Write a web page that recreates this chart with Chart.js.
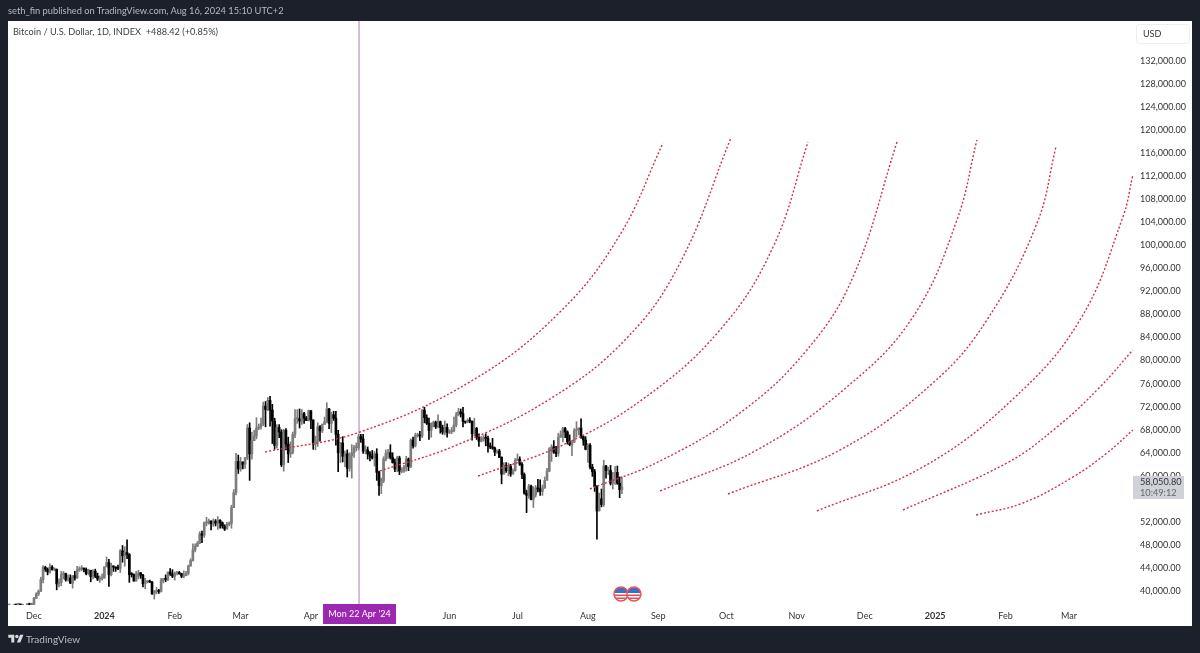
<!DOCTYPE html>
<html>
<head>
<meta charset="utf-8">
<title>BTCUSD</title>
<script src="https://cdn.jsdelivr.net/npm/chart.js"></script>
<style>
  html, body { margin: 0; padding: 0; background: #1c202b; overflow: hidden; }
  body { width: 1200px; height: 653px; position: relative; font-family: Lato, sans-serif; }
  canvas { position: absolute; left: 0; top: 0; }
  .txt { position: absolute; white-space: pre; }
  #pub { left: 8px; top: 5px; font-size: 9.3px; color: #b6b9c2; }
  #legend { left: 13px; top: 26px; font-size: 9.2px; color: #3c3f48; }
  #brand { left: 26px; top: 633px; font-size: 10px; color: #b9bcc5; }
  #logo { position: absolute; left: 8px; top: 633px; width: 16px; height: 12px; fill: #d8dae0; }
</style>
</head>
<body>
<canvas id="myChart" width="1200" height="653"></canvas>
<div class="txt" id="pub">seth_fin published on TradingView.com, Aug 16, 2024 15:10 UTC+2</div>
<div class="txt" id="legend">Bitcoin / U.S. Dollar, 1D, INDEX  +488.42 (+0.85%)</div>
<svg id="logo" viewBox="0 0 36 28"><path d="M14 22H7V11H0V4h14v18zM28 22h-8l7.5-18h8L28 22z"/><circle cx="20" cy="8" r="4"/></svg>
<div class="txt" id="brand">TradingView</div>
<script>
// days are counted from 1 Dec 2023, candles start on 20 Nov 2023
const firstDay = -11;

// daily candles, thousands of USD
const closes = [
  37.4,35.8,37.4,37.3,37.7,37.6,37.4,37.2,37.8,37.6,37.7,
  38.7,39.5,39.97,41.98,44.08,43.77,43.29,44.17,43.72,43.79,41.24,41.45,42.89,43.02,41.94,42.26,41.36,42.66,42.27,43.65,43.86,43.99,43.74,43.02,43.6,42.52,43.44,42.58,42.07,42.14,42.28,
  44.18,44.95,42.85,44.18,44.16,43.97,43.93,46.97,46.12,46.66,46.34,42.85,42.84,41.73,42.51,43.15,42.74,41.26,41.62,41.67,41.54,39.51,39.85,40.08,39.93,41.82,42.12,42.03,43.3,42.94,42.58,
  43.08,43.2,43.0,42.58,42.66,43.09,44.34,45.29,47.13,47.77,48.29,49.92,49.7,51.8,51.9,52.15,51.66,52.12,51.78,52.26,51.85,51.3,50.73,51.57,51.73,54.48,57.08,62.5,61.2,
  62.4,62.0,63.1,68.3,63.8,66.1,66.9,68.3,68.5,69.0,72.1,71.5,73.1,71.4,69.5,65.3,68.4,67.6,61.9,67.9,65.5,63.8,64.1,67.2,69.9,69.9,69.5,70.8,70.0,69.6,71.3,
  69.7,65.5,66.0,68.5,67.8,68.9,69.4,71.6,69.1,70.6,70.0,67.2,64.0,65.7,63.4,63.8,61.3,63.5,64.0,64.9,64.9,66.8,66.4,64.3,64.5,63.8,63.4,63.1,63.8,60.6,
  58.3,59.1,62.9,63.9,64.0,63.2,62.3,61.2,63.1,60.8,60.8,61.5,62.9,61.6,66.2,65.2,67.0,67.0,66.9,71.4,70.1,69.1,67.9,68.5,69.3,68.5,69.4,68.4,67.6,68.4,67.5,
  67.7,67.8,68.8,70.6,71.1,70.8,69.4,69.3,69.6,69.5,67.3,68.2,66.7,66.0,66.2,66.6,66.5,65.2,65.0,64.8,64.1,64.3,63.2,60.3,61.8,60.9,61.6,60.3,60.9,62.7,
  62.9,62.0,60.2,57.0,56.6,58.2,55.9,56.7,57.9,57.7,57.3,57.9,59.2,60.8,64.7,65.0,64.1,63.9,66.7,67.1,68.2,67.6,65.9,65.4,65.8,67.9,68.0,68.3,66.8,66.2,64.6,
  65.3,61.5,60.7,58.1,53.9,56.0,55.0,61.7,60.9,60.9,58.7,59.3,60.6,58.7,57.6,58.05
];
const highs = [
  37.65,37.4,37.65,37.5,37.9,37.7,37.5,37.4,37.8,37.9,37.9,
  38.9,39.7,40.2,42.4,44.4,44.3,44.0,44.7,44.4,44.0,43.8,42.1,43.4,43.4,43.1,42.8,42.8,42.7,43.4,44.3,44.2,44.4,44.0,44.0,43.8,43.6,43.7,43.8,43.1,42.6,43.0,
  44.2,45.9,45.5,44.8,44.4,44.2,44.5,47.2,47.9,47.7,48.9,46.5,43.2,43.0,43.4,43.6,43.2,42.9,42.2,41.8,41.9,41.7,40.1,40.6,40.3,42.2,42.2,42.8,43.3,43.9,43.7,
  43.3,43.4,43.4,43.1,43.5,43.4,44.5,45.6,48.2,48.2,48.6,50.3,50.4,52.0,52.8,52.5,52.2,52.5,52.4,52.9,52.4,52.0,51.5,51.9,52.0,54.9,57.6,63.9,63.6,
  63.2,62.4,63.2,68.9,69.2,67.6,67.9,70.1,69.0,70.0,72.8,72.9,73.6,73.8,72.4,70.0,68.9,68.9,68.0,68.1,68.2,66.7,65.9,67.6,71.5,71.5,71.6,71.5,71.0,70.3,71.4,
  71.3,69.7,66.9,69.2,68.7,69.0,70.2,72.7,71.7,71.0,71.2,71.2,67.9,65.8,66.8,64.3,64.5,64.0,65.4,65.3,65.7,67.2,67.2,67.2,65.2,65.0,64.2,64.4,64.2,64.7,
  60.8,59.6,63.3,64.5,64.6,65.4,64.0,62.9,63.4,63.4,61.4,61.8,63.4,63.1,66.4,66.7,67.4,67.4,67.7,71.5,71.9,70.6,70.0,69.2,69.5,69.5,70.6,69.5,68.8,69.5,69.0,
  68.0,68.4,70.2,71.0,71.7,71.6,71.9,69.5,69.9,70.1,69.5,70.0,68.4,67.3,66.8,67.0,67.3,66.9,65.7,66.5,65.0,64.5,64.6,63.3,62.3,62.3,62.2,62.0,61.2,63.0,
  63.8,63.3,62.3,60.5,57.5,58.5,58.4,58.1,58.3,59.4,59.3,58.4,59.8,61.3,64.9,65.4,66.1,65.1,67.4,67.8,68.4,68.4,67.8,67.1,66.1,68.2,69.4,68.3,69.9,66.9,66.8,
  65.6,65.6,62.0,61.1,58.3,57.0,57.7,62.7,61.8,61.5,61.8,60.6,61.6,61.7,59.8,59.8
];
const lows = [
  37.0,35.7,35.7,37.0,37.2,37.4,37.1,36.7,36.9,37.5,37.5,
  37.6,38.7,39.2,39.9,41.4,43.4,42.8,43.1,43.6,43.5,40.2,40.7,40.9,42.1,41.7,41.7,41.3,40.5,41.9,42.2,43.4,43.5,43.3,42.8,42.8,41.6,42.1,42.3,41.8,41.5,41.9,
  42.2,44.2,40.8,42.6,43.4,43.4,43.7,43.2,45.0,44.3,45.6,41.5,42.4,41.7,41.7,42.1,42.2,40.7,40.4,41.4,41.5,39.4,38.6,39.5,39.6,39.8,41.4,41.6,41.8,42.7,42.3,
  41.9,42.8,42.9,42.3,42.3,42.6,42.8,44.3,45.2,46.8,47.7,48.2,48.4,49.3,51.3,51.6,50.6,51.2,51.3,50.7,50.9,50.9,50.5,50.9,51.3,50.9,54.5,56.7,60.4,
  60.8,61.2,61.3,62.8,59.2,62.9,66.2,66.4,68.0,68.1,68.7,68.5,71.3,68.6,65.6,64.6,64.8,66.6,61.6,60.8,64.5,62.3,63.2,63.8,66.6,69.1,68.3,68.9,69.1,69.6,69.5,
  68.2,64.6,64.5,65.1,66.0,67.5,69.0,69.2,68.2,67.5,69.6,65.3,60.7,62.3,62.4,61.6,59.8,60.8,59.6,63.2,64.3,64.5,65.8,63.9,63.8,62.9,62.6,62.9,61.7,59.2,
  56.6,56.9,58.8,62.6,63.0,62.9,62.2,60.7,60.7,60.2,60.5,60.6,60.8,60.9,61.4,64.8,65.0,66.7,66.1,66.6,69.2,68.9,66.3,66.7,68.5,68.2,68.3,67.4,67.2,67.1,66.7,
  67.3,67.3,67.6,68.5,70.4,70.2,68.5,69.1,69.2,69.2,66.2,66.9,66.3,65.1,65.9,66.0,65.2,64.1,64.7,64.6,63.5,63.9,63.2,58.6,60.3,60.6,60.0,59.9,60.3,60.8,
  62.6,61.8,59.5,56.8,53.6,56.1,55.8,54.5,56.3,57.2,56.6,56.6,57.8,59.8,60.7,62.5,63.9,63.3,63.4,66.7,65.9,66.6,65.5,65.2,63.5,65.8,66.7,67.1,66.5,65.3,64.5,
  62.3,61.2,59.9,57.3,49.0,53.9,54.6,54.7,59.6,60.2,58.4,57.7,58.5,58.5,56.2,56.9
];

// the nine dashed arcs: [day, price]
const arc1 = [[101.8,64130],[143.6,67600],[193.4,76630],[231.7,88430],[258.1,101800],[277.1,117770]];
const arc2 = [[152.4,60830],[186.3,65350],[227.3,73330],[261.2,83920],[284.6,96940],[307,118640]];
const arc3 = [[195.6,59960],[233,65350],[268.3,73330],[302.2,85310],[325.6,99720],[341,117950]];
const arc4 = [[244.9,57710],[275.8,62570],[311,70900],[340.5,81840],[360.8,94510],[380.2,117950]];
const arc5 = [[275.8,57360],[318.5,64480],[358.1,75410],[387.2,87570],[406.6,104410],[415.4,118290]];
const arc6 = [[305.7,56840],[355.1,64480],[396,76110],[419.8,87050],[441.9,103880],[450.2,117080]];
const arc7 = [[344.9,53890],[391.6,61530],[431.3,73330],[460.8,87050],[479.7,104930],[484.1,112220]];
const arc8 = [[382.8,54060],[428.6,62220],[450.7,68470],[469.6,75410],[484.1,81840]];
const arc9 = [[415,53190],[435.7,55280],[457.7,59790],[472.7,63960],[484.1,67950]];
const arcs = [arc1, arc2, arc3, arc4, arc5, arc6, arc7, arc8, arc9];

// axes
const priceTicks = [132000,128000,124000,120000,116000,112000,108000,104000,100000,96000,92000,88000,84000,80000,76000,72000,68000,64000,60000,52000,48000,44000,40000];
const timeTickDays = [0,31,62,91,122,183,213,244,275,305,336,366,397,428,456];
const timeTickNames = ["Dec","2024","Feb","Mar","Apr","Jun","Jul","Aug","Sep","Oct","Nov","Dec","2025","Feb","Mar"];
const yMin = 37570, yMax = 138950, xMin = -11.45, xMax = 484.6;

const crosshairDay = 143.2;
const crosshairLabel = "Mon 22 Apr '24";
const lastPrice = 58050.8;
const lastPriceLabel = "58,050.80";
const countdownLabel = "10:49:12";
const eventDays = [258.6, 264.3];

const FONT = "Lato, sans-serif";
const UP = "#7d7d7d";
const DOWN = "#000000";

function isUp(i) {
  const open = i === 0 ? closes[0] : closes[i - 1];
  return closes[i] >= open;
}

const wicks = closes.map((c, i) => ({ x: firstDay + i, y: [lows[i] * 1000, highs[i] * 1000] }));
const bodies = closes.map((c, i) => {
  const open = i === 0 ? c : closes[i - 1];
  return { x: firstDay + i, y: [open * 1000, c * 1000] };
});
const candleColors = closes.map((c, i) => (isUp(i) ? UP : DOWN));

const pane = {
  id: "pane",
  beforeDraw(chart) {
    const { ctx, chartArea, scales } = chart;
    ctx.save();
    ctx.fillStyle = "#ffffff";
    ctx.fillRect(chartArea.left, chartArea.top, scales.y.right - chartArea.left, scales.x.bottom - chartArea.top);
    ctx.restore();
  },
  afterDraw(chart) {
    const { ctx, chartArea, scales } = chart;
    ctx.save();

    // USD button
    const ux = chartArea.right + 2;
    ctx.strokeStyle = "#eeeeee";
    ctx.beginPath();
    ctx.roundRect(ux + 0.5, chartArea.top + 3.5, 53, 19, 3);
    ctx.stroke();
    ctx.fillStyle = "#333333";
    ctx.font = "9px " + FONT;
    ctx.textBaseline = "middle";
    ctx.fillText("USD", ux + 7, chartArea.top + 13);

    // last price label
    const py = scales.y.getPixelForValue(lastPrice);
    ctx.fillStyle = "#d0d2da";
    ctx.fillRect(chartArea.right - 1, py - 11, 51, 23);
    ctx.fillStyle = "#333333";
    ctx.font = "9.2px " + FONT;
    ctx.fillText(lastPriceLabel, chartArea.right + 6, py - 5);
    ctx.fillStyle = "#666666";
    ctx.fillText(countdownLabel, chartArea.right + 6, py + 6);

    // crosshair date label
    const cx = scales.x.getPixelForValue(crosshairDay);
    ctx.fillStyle = "#9c27b0";
    ctx.fillRect(cx - 36, scales.x.top - 1, 73, 20);
    ctx.fillStyle = "#ffffff";
    ctx.textAlign = "center";
    ctx.font = "9px " + FONT;
    ctx.fillText(crosshairLabel, cx + 0.5, scales.x.top + 9);

    // dividend style event badges
    eventDays.forEach((d) => {
      const ex = scales.x.getPixelForValue(d);
      const ey = chartArea.bottom - 11;
      ctx.save();
      ctx.beginPath();
      ctx.arc(ex, ey, 7, 0, Math.PI * 2);
      ctx.fillStyle = "#ffffff";
      ctx.fill();
      ctx.clip();
      ctx.fillStyle = "#3f6fc4";
      ctx.fillRect(ex - 7, ey - 6, 14, 5);
      ctx.fillStyle = "#e0505c";
      ctx.fillRect(ex - 7, ey + 0.5, 14, 1.5);
      ctx.fillRect(ex - 7, ey + 3.5, 14, 1.5);
      ctx.restore();
      ctx.beginPath();
      ctx.arc(ex, ey, 7, 0, Math.PI * 2);
      ctx.strokeStyle = "#e8545c";
      ctx.lineWidth = 1.5;
      ctx.stroke();
    });
    ctx.restore();
  },
};

const datasets = [
  {
    type: "line",
    data: [{ x: crosshairDay, y: yMin }, { x: crosshairDay, y: yMax }],
    borderColor: "#b596c2",
    borderWidth: 1.2,
    pointRadius: 0,
    order: 4,
  },
  {
    type: "bar",
    data: wicks,
    backgroundColor: candleColors,
    barThickness: 1,
    grouped: false,
    order: 3,
  },
  {
    type: "bar",
    data: bodies,
    backgroundColor: candleColors,
    barThickness: 2,
    grouped: false,
    minBarLength: 1,
    order: 2,
  },
];

arcs.forEach((arc) => {
  datasets.push({
    type: "line",
    data: arc.map(([x, y]) => ({ x, y })),
    borderColor: "#d0304e",
    borderWidth: 1.4,
    borderDash: [2, 2],
    pointRadius: 0,
    tension: 0.4,
    order: 1,
  });
});

new Chart(document.getElementById("myChart").getContext("2d"), {
  type: "bar",
  data: { datasets },
  plugins: [pane],
  options: {
    responsive: false,
    animation: false,
    events: [],
    layout: { padding: { left: 8, top: 21, right: 8, bottom: 27 } },
    plugins: { legend: { display: false }, tooltip: { enabled: false } },
    scales: {
      x: {
        type: "linear",
        min: xMin,
        max: xMax,
        offset: false,
        grid: { display: false, drawTicks: false },
        border: { display: false },
        afterBuildTicks: (scale) => {
          scale.ticks = timeTickDays.map((value) => ({ value }));
        },
        afterFit: (scale) => {
          scale.height = 21;
        },
        ticks: {
          autoSkip: false,
          maxRotation: 0,
          padding: 6,
          color: "#333333",
          font: (c) => ({
            family: FONT,
            size: 9,
            weight: /^20/.test(String(timeTickNames[c.index])) ? "bold" : "normal",
          }),
          callback: (val, idx) => timeTickNames[idx],
        },
      },
      y: {
        position: "right",
        min: yMin,
        max: yMax,
        grid: { display: false, drawTicks: false },
        border: { display: false },
        afterBuildTicks: (scale) => {
          scale.ticks = priceTicks.map((value) => ({ value }));
        },
        afterFit: (scale) => {
          scale.width = 58;
        },
        ticks: {
          autoSkip: false,
          padding: 6,
          color: "#333333",
          font: { family: FONT, size: 9 },
          callback: (val) => val.toLocaleString("en-US", { minimumFractionDigits: 2 }),
        },
      },
    },
  },
});
</script>
</body>
</html>
